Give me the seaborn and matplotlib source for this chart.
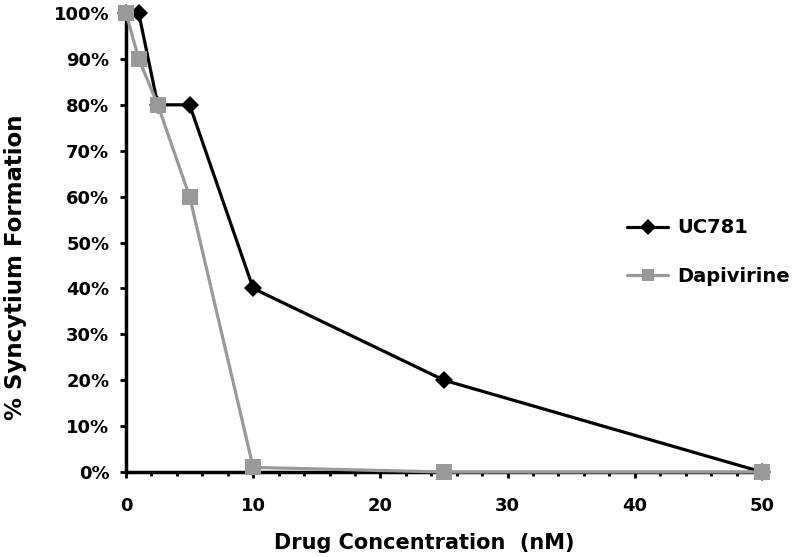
import pandas as pd
import seaborn as sns
from matplotlib import pyplot as plt
from matplotlib.ticker import PercentFormatter, MultipleLocator

conc = [0, 1, 2.5, 5, 10, 25, 50]
uc781 = [1.00, 1.00, 0.80, 0.80, 0.40, 0.20, 0.00]
dapivirine = [1.00, 0.90, 0.80, 0.60, 0.01, 0.00, 0.00]

df = pd.DataFrame({
    'conc': conc * 2,
    'value': uc781 + dapivirine,
    'drug': ['UC781'] * len(conc) + ['Dapivirine'] * len(conc),
})

sns.set_style('white')
plt.rcParams['font.family'] = ['DejaVu Sans']
plt.rcParams['font.weight'] = 'bold'
for k in ['text.color', 'axes.labelcolor', 'xtick.color', 'ytick.color']:
    plt.rcParams[k] = 'black'

fig = plt.figure(figsize=(8, 5.57), dpi=100)
ax = fig.add_axes([0.1575, 0.1526, 0.795, 0.824])

sns.lineplot(data=df, x='conc', y='value', hue='drug', style='drug',
             palette={'UC781': 'black', 'Dapivirine': '#999999'},
             markers={'UC781': 'D', 'Dapivirine': 's'}, dashes=False,
             linewidth=2.3, markersize=9, markeredgewidth=0,
             ax=ax, clip_on=False, legend=True)
for line in ax.lines:
    if line.get_marker() == 's':
        line.set_markersize(11)
        line.set_zorder(3)

ax.set_xlim(0, 50)
ax.set_ylim(0, 1)
ax.xaxis.set_major_locator(MultipleLocator(10))
ax.xaxis.set_minor_locator(MultipleLocator(2))
ax.yaxis.set_major_locator(MultipleLocator(0.1))
ax.yaxis.set_major_formatter(PercentFormatter(1, decimals=0))
ax.tick_params(axis='both', which='major', direction='out', length=4, width=2,
               labelsize=13, bottom=True, left=True)
ax.tick_params(axis='x', which='major', pad=14)
ax.tick_params(axis='y', which='major', pad=8)
ax.tick_params(axis='x', which='minor', direction='out', length=3, width=2, bottom=True)
for lab in ax.get_xticklabels() + ax.get_yticklabels():
    lab.set_fontweight('bold')

sns.despine(ax=ax)
for s in ['left', 'bottom']:
    ax.spines[s].set_linewidth(2.5)
    ax.spines[s].set_color('black')

ax.set_xlabel('Drug Concentration  (nM)', fontsize=15, fontweight='bold')
ax.set_ylabel('% Syncytium Formation', fontsize=16.5, fontweight='bold')
ax.xaxis.set_label_coords(0.469, -0.133)
ax.yaxis.set_label_coords(-0.155, 0.447)

leg = ax.legend(loc='center left', bbox_to_anchor=(0.784, 0.5476), bbox_transform=fig.transFigure,
                frameon=False, prop={'weight': 'bold', 'size': 14}, labelspacing=1.5,
                handlelength=2.1, handletextpad=0.45, borderpad=0, borderaxespad=0)
for h in leg.legend_handles:
    h.set_markersize(8 if h.get_marker() == 'D' else 9)

fig.savefig('out.png', dpi=100)
